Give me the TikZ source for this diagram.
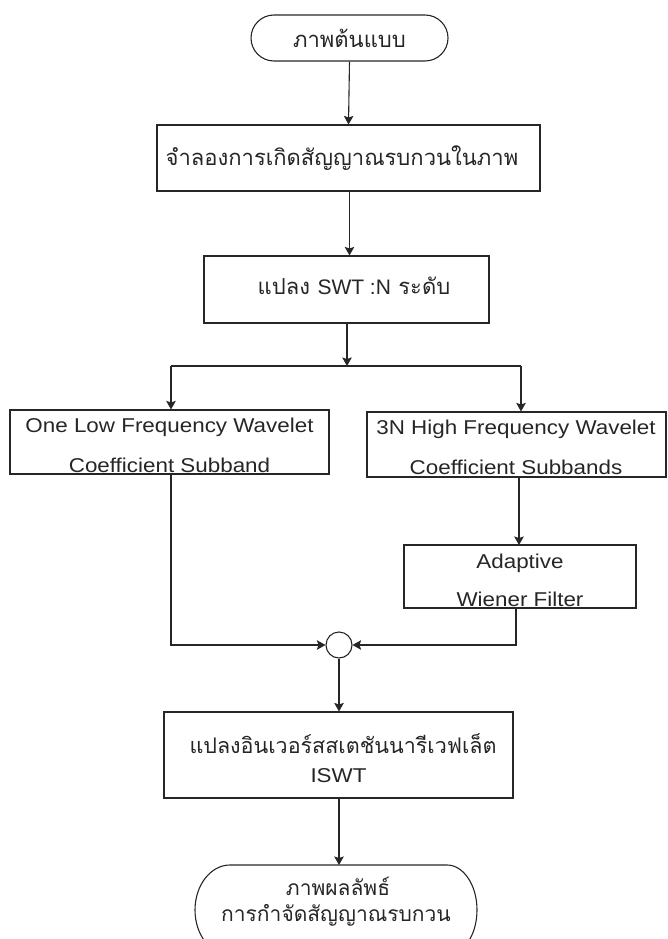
\documentclass[tikz,border=0pt]{standalone}
\usepackage{fontspec}
\setmainfont{Liberation Sans}[FakeStretch=1.12]
\newfontfamily\thai{Loma}[Script=Thai]
\newfontfamily\plainsans{Liberation Sans}
\usetikzlibrary{arrows.meta}
\definecolor{ink}{HTML}{262626}
\tikzset{
  box/.style={draw=ink, line width=1.1pt, rectangle, inner sep=0pt},
  term/.style={draw=ink, line width=1.1pt, rectangle, inner sep=0pt},
  conn/.style={draw=ink, line width=1.1pt},
  arr/.style={conn, arrows={-Stealth[length=8.5pt,width=9.5pt,inset=1.5pt]}},
  th/.style={font=\thai\fontsize{22}{26}\selectfont, inner sep=0pt, text=ink},
  lt/.style={font=\fontsize{20}{24}\selectfont, inner sep=0pt, anchor=base, text=ink},
}
\begin{document}
\begin{tikzpicture}[x=1pt,y=-1pt]
\useasboundingbox (0,0) rectangle (667,939);
% top terminal
\node[term, rounded corners=23pt, minimum width=197pt, minimum height=46pt] (t1) at (349.5,38) {};
\node[th] (t1t) at (349.5,38) {ภาพต้นแบบ};
% box 2
\node[box, minimum width=383pt, minimum height=66pt] (b2) at (348.5,158) {};
\node[th] (b2t) at (342,158) {จำลองการเกิดสัญญาณรบกวนในภาพ};
% box 3
\node[box, minimum width=285pt, minimum height=67pt] (b3) at (346.5,289.5) {};
\node[th] (b3t) at (354,286) {แปลง {\plainsans\fontsize{21}{24}\selectfont SWT :N} ระดับ};
% split
\coordinate (j) at (347,366);
\coordinate (jl) at (171,366);
\coordinate (jr) at (521,366);
% box 4
\node[box, minimum width=319pt, minimum height=64pt] (b4) at (169.5,442) {};
\node[lt] (b4a) at (169.5,432) {One Low Frequency Wavelet};
\node[lt] (b4b) at (169.5,472) {Coefficient Subband};
% box 5
\node[box, minimum width=299pt, minimum height=65pt] (b5) at (516.5,444.5) {};
\node[lt] (b5a) at (516,434) {3N High Frequency Wavelet};
\node[lt] (b5b) at (516,474) {Coefficient Subbands};
% box 6
\node[box, minimum width=232pt, minimum height=63pt] (b6) at (520,576.5) {};
\node[lt] (b6a) at (520,568) {Adaptive};
\node[lt] (b6b) at (520,606) {Wiener Filter};
% sum circle
\node[draw=ink, line width=1.1pt, circle, minimum size=26pt, inner sep=0pt] (c) at (339,645) {};
% box 7
\node[box, minimum width=349pt, minimum height=86pt] (b7) at (338.5,755) {};
\node[th, font=\thai\fontsize{21.5}{26}\selectfont] (b7a) at (343,744) {แปลงอินเวอร์สสเตชันนารีเวฟเล็ต};
\node[lt] (b7b) at (338.5,782) {ISWT};
% bottom terminal
\coordinate (t2n) at (339,865);
\draw[conn] (447,865) -- (230,865)
  arc[start angle=90, end angle=270, x radius=35pt, y radius=45pt] -- (447,955)
  arc[start angle=-90, end angle=90, x radius=30pt, y radius=45pt];
\node[th, font=\thai\fontsize{21}{24}\selectfont] (t2a) at (338,886) {ภาพผลลัพธ์};
\node[th, font=\thai\fontsize{21}{24}\selectfont] (t2b) at (336,915) {การกำจัดสัญญาณรบกวน};
% connectors
\draw[arr] (t1.south) -- (b2.north);
\draw[arr] (b2.south -| t1.south) -- (b3.north -| t1.south);
\draw[arr] (b3.south -| j) -- (j);
\draw[conn] (jl) -- (jr);
\draw[arr] (jl) -- (jl |- b4.north);
\draw[arr] (jr) -- (jr |- b5.north);
\draw[arr] (519,477) -- (519,545);
\draw[arr] (b4.south -| jl) -- (jl |- c.west) -- (c.west);
\draw[arr] (516,608) -- (516,645) -- (c.east);
\draw[arr] (c.south) -- (c.south |- b7.north);
\draw[arr] (b7.south -| t2n) -- (t2n);
\end{tikzpicture}
\end{document}
